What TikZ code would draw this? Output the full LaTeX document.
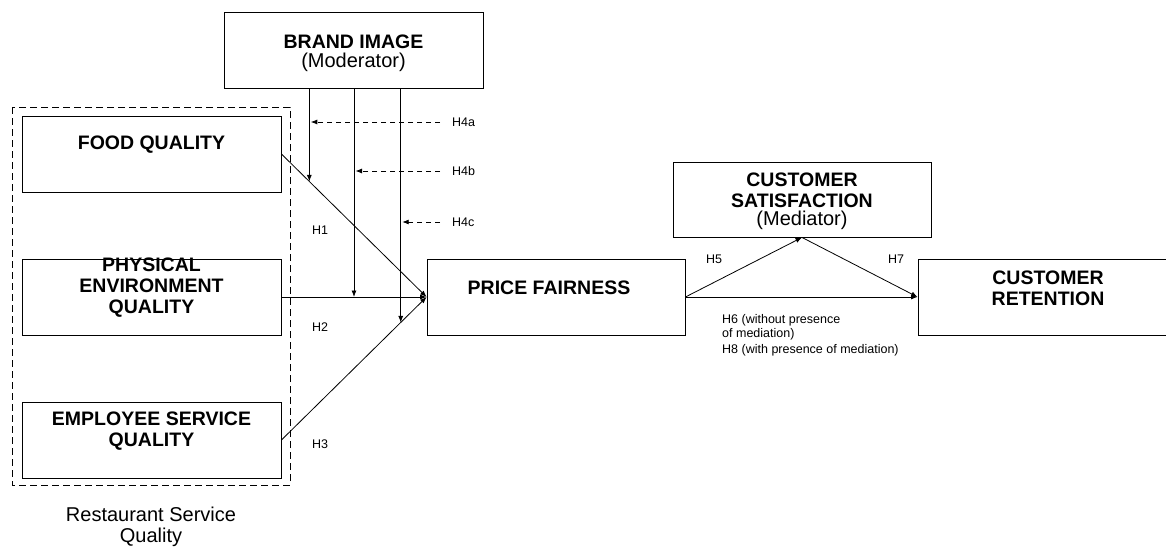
\documentclass[tikz,border=0pt]{standalone}
\usepackage{fontspec}
\setmainfont{Liberation Sans}
\usetikzlibrary{arrows.meta,calc}
\tikzset{
  box/.style={draw=black, line width=0.9pt, inner sep=0pt, minimum width=259pt, minimum height=76pt},
  ttl/.style={font=\fontsize{19.5}{21}\selectfont\bfseries, align=center, inner sep=0pt},
  sub/.style={font=\fontsize{20}{20.5}\selectfont, align=center, inner sep=0pt},
  lbl/.style={font=\fontsize{12.5}{14.5}\selectfont, inner sep=0pt, anchor=west, align=left},
  arr/.style={line width=0.8pt, -{Latex[length=6.5pt,width=5pt]}},
  darr/.style={line width=0.8pt, dash pattern=on 5.5pt off 3.5pt, -{Latex[length=6.5pt,width=5pt]}},
}
\begin{document}
\begin{tikzpicture}[x=1pt,y=-1pt]
\useasboundingbox (0,0) rectangle (1166,546);
\clip (0,0) rectangle (1166,546);
% group frame
\draw[line width=0.9pt, dash pattern=on 7pt off 4pt] (12,107) rectangle (290,485);
% boxes
\node[box] (brand) at (353.5,50) {};
\node[ttl] (brandt) at (353.5,42) {BRAND IMAGE};
\node[sub] (brands) at (353.5,62) {(Moderator)};
\node[box] (fq) at (151.5,154) {};
\node[ttl] (fqt) at (151.5,145) {FOOD QUALITY};
\node[box] (pe) at (151.5,297) {};
\node[ttl] (pet) at (151.5,288) {PHYSICAL\\ENVIRONMENT\\QUALITY};
\node[box] (es) at (151.5,440) {};
\node[ttl] (est) at (151.5,431) {EMPLOYEE SERVICE\\QUALITY};
\node[box, minimum width=258pt] (pf) at (556,297) {};
\node[ttl] (pft) at (549,288) {PRICE FAIRNESS};
\node[box, minimum width=258pt, minimum height=75pt] (cs) at (802,199.5) {};
\node[ttl] (cst) at (802,190) {CUSTOMER\\SATISFACTION};
\node[sub] (css) at (802,220) {(Mediator)};
\node[box, minimum width=260pt] (cr) at (1048,297) {};
\node[ttl] (crt) at (1048,288) {CUSTOMER\\RETENTION};
\node[sub] (rsq) at (151,527) {Restaurant Service\\Quality};
% main paths
\draw[arr] (fq.east) -- (pf.west);
\draw[arr] (pe.east) -- (pf.west);
\draw[arr] (es.east) -- (pf.west);
\draw[arr] (pf.east) -- (cs.south);
\draw[arr] (cs.south) -- (cr.west);
\draw[arr] (pf.east) -- (cr.west);
% moderation
\coordinate (m1) at ($(fq.east)!0.192!(pf.west)$);
\coordinate (m2) at ($(pe.east)!0.5!(pf.west)$);
\coordinate (m3) at ($(es.east)!0.822!(pf.west)$);
\draw[arr] (m1 |- brand.south) -- (m1);
\draw[arr] (m2 |- brand.south) -- (m2);
\draw[arr] (m3 |- brand.south) -- (m3);
\node[lbl] (h4a) at (452,122) {H4a};
\node[lbl] (h4b) at (452,171) {H4b};
\node[lbl] (h4c) at (452,222) {H4c};
\draw[darr] ([xshift=-12pt]h4a.west) -- ([xshift=1.5pt]m1 |- h4a.west);
\draw[darr] ([xshift=-12pt]h4b.west) -- ([xshift=1.5pt]m2 |- h4b.west);
\draw[darr] ([xshift=-12pt]h4c.west) -- ([xshift=1.5pt]m3 |- h4c.west);
% labels
\node[lbl] (h1) at (312,230) {H1};
\node[lbl] (h2) at (312,327) {H2};
\node[lbl] (h3) at (312,444) {H3};
\node[lbl] (h5) at (706,259) {H5};
\node[lbl] (h7) at (888,259) {H7};
\node[lbl, font=\fontsize{12.5}{14}\selectfont] (h6) at (722,327) {H6 (without presence\\of mediation)};
\node[lbl] (h8) at (722,350) {H8 (with presence of mediation)};
\end{tikzpicture}
\end{document}
